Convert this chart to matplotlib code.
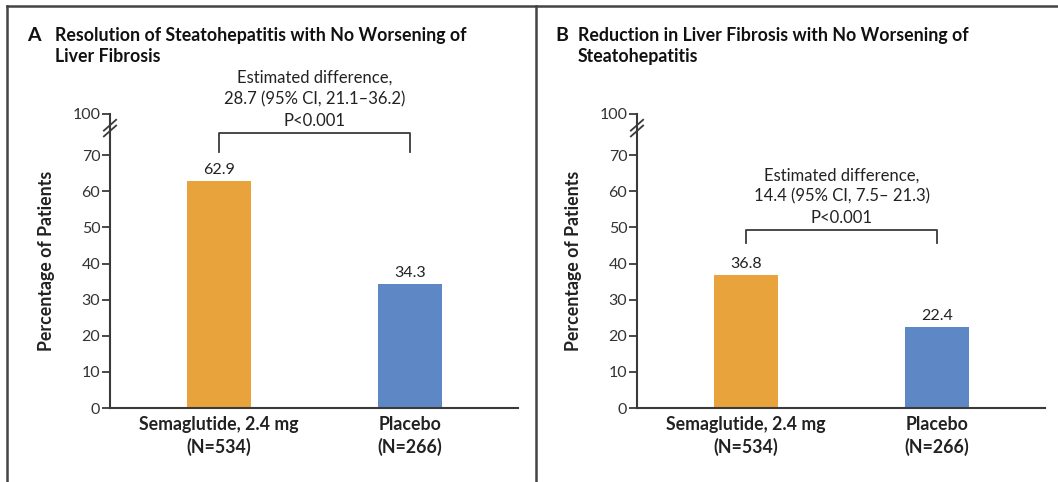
import matplotlib.pyplot as plt
from matplotlib.lines import Line2D

plt.rcParams['font.family'] = ['Lato', 'DejaVu Sans']

groups = ["Semaglutide, 2.4 mg\n(N=534)", "Placebo\n(N=266)"]
panel_letters = ["A", "B"]
panel_titles = [
    "Resolution of Steatohepatitis with No Worsening of\nLiver Fibrosis",
    "Reduction in Liver Fibrosis with No Worsening of\nSteatohepatitis",
]
values_a = [62.9, 34.3]
values_b = [36.8, 22.4]
diff_texts = [
    "Estimated difference,\n28.7 (95% CI, 21.1\u201336.2)\nP<0.001",
    "Estimated difference,\n14.4 (95% CI, 7.5\u2013 21.3)\nP<0.001",
]
# bracket top / leg bottom, in percent
brackets = [(76.2, 70.9), (49.3, 45.7)]
yticks = [0, 10, 20, 30, 40, 50, 60, 70]

ORANGE = "#E8A33D"
BLUE = "#5E88C5"
DARK = "#3a3a3a"
BREAK_TOP = 81.4  # where the "100" tick sits above the axis break

fig = plt.figure(figsize=(10.58, 4.82), dpi=100)
W, H = 1058, 482

# frame lines
fig.add_artist(Line2D([7 / W, 7 / W], [0, 1 - 6 / H], color="#444444", lw=1.8))
fig.add_artist(Line2D([7 / W, 1], [1 - 6 / H, 1 - 6 / H], color="#444444", lw=1.8))
fig.add_artist(Line2D([536 / W, 536 / W], [0, 1 - 6 / H], color="#444444", lw=1.8))

axes_left = [110, 637]
title_x = [(27, 55), (555, 578)]

for i, vals in enumerate([values_a, values_b]):
    x0 = axes_left[i]
    ax = fig.add_axes([x0 / W, 1 - 408 / H, 408 / W, (408 - 114) / H])
    x = [0, 1]
    ax.bar(x, vals, width=0.335, color=[ORANGE, BLUE])
    for xi, v in zip(x, vals):
        ax.annotate(f"{v:.1f}", (xi, v), xytext=(0, 3), textcoords="offset points",
                    ha="center", va="bottom", fontsize=11.5, color="#222222")

    ax.set_xlim(-0.571, 1.565)
    ax.set_ylim(0, BREAK_TOP)
    ax.set_yticks(yticks + [BREAK_TOP])
    ax.set_yticklabels([str(t) for t in yticks] + ["100"])
    ax.set_xticks(x)
    ax.set_xticklabels(groups, fontweight="bold", fontsize=12.8, linespacing=1.3)
    ax.tick_params(axis="x", length=0, pad=6, colors="#222222")
    ax.tick_params(axis="y", length=6, width=1.3, color=DARK, labelsize=11.5,
                   labelcolor="#333333", pad=1)
    for s in ["top", "right"]:
        ax.spines[s].set_visible(False)
    for s in ["left", "bottom"]:
        ax.spines[s].set_color(DARK)
        ax.spines[s].set_linewidth(1.5)
    ax.set_ylabel("Percentage of Patients", fontweight="bold", fontsize=12.8,
                  color="#222222")
    ax.yaxis.set_label_coords(-0.135, 0.5)

    # axis break marks
    for dy in (0, 1.6):
        ax.plot([-0.015, 0.015], [75.2 + dy, 78.2 + dy], transform=ax.get_yaxis_transform(),
                color=DARK, lw=1.3, clip_on=False)

    # bracket
    top, leg = brackets[i]
    ax.plot([0, 0, 1, 1], [leg, top, top, leg], color=DARK, lw=1.3)
    ax.annotate(diff_texts[i], (0.5, top), xytext=(0, 3), textcoords="offset points",
                ha="center", va="bottom", fontsize=12, linespacing=1.4, color="#222222")

    lx, tx = title_x[i]
    fig.text(lx / W, 1 - 27 / H, panel_letters[i], fontsize=14, fontweight="bold",
             va="top", ha="left", color="#111111")
    fig.text(tx / W, 1 - 27 / H, panel_titles[i], fontsize=12.8, fontweight="bold",
             va="top", ha="left", linespacing=1.3, color="#111111")

fig.savefig("out.png", dpi=100)
